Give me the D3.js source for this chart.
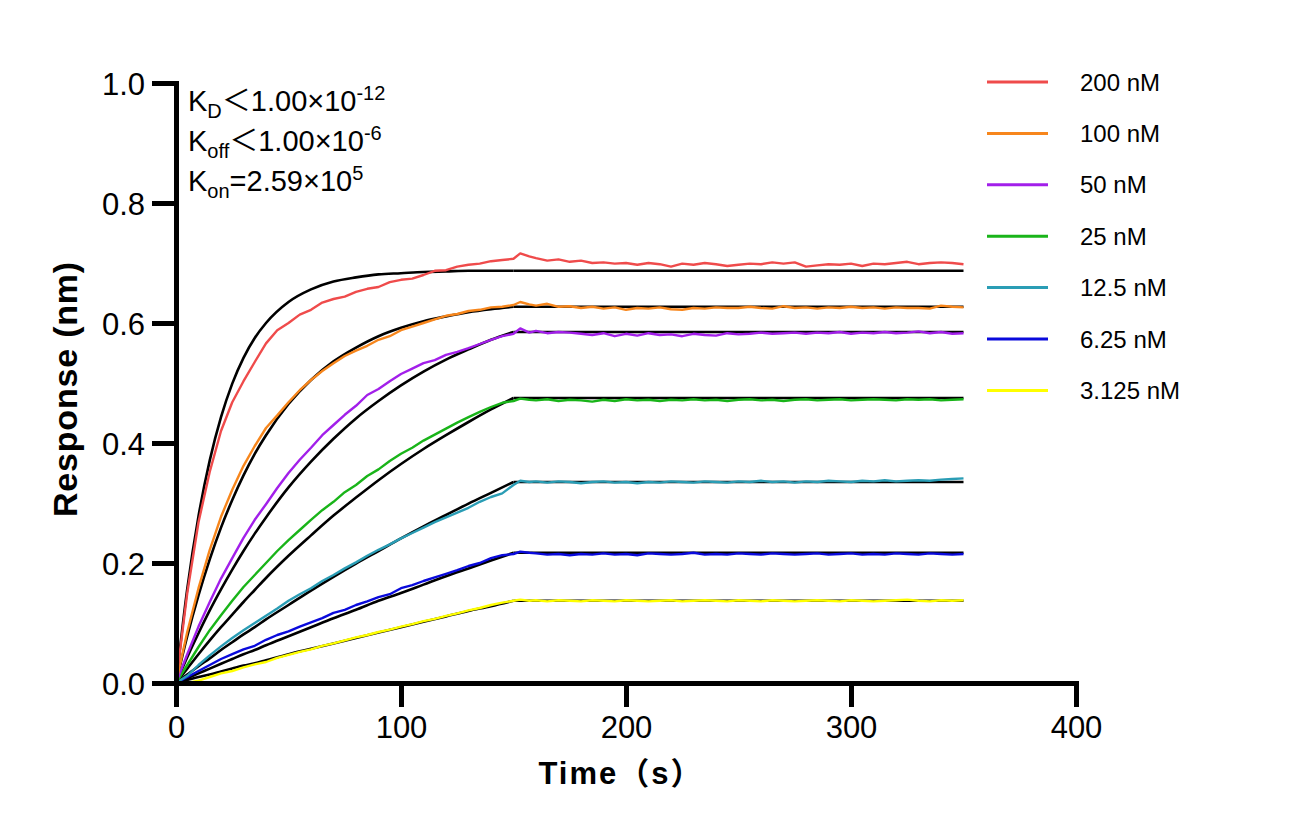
<!DOCTYPE html>
<html>
<head>
<meta charset="utf-8">
<script src="https://cdn.jsdelivr.net/npm/d3@7"></script>
<style>
  html, body { margin: 0; padding: 0; background: #fff; }
  svg { display: block; font-family: "Liberation Sans", Arial, "Noto Sans CJK SC", sans-serif; }
</style>
</head>
<body>
<svg id="chart" width="1289" height="836"></svg>
<script>
// ---------- data ----------
const seriesNames = ["200 nM", "100 nM", "50 nM", "25 nM", "12.5 nM", "6.25 nM", "3.125 nM"];
const seriesColors = ["#EF4B4B", "#F7861C", "#A21FEA", "#19B419", "#2A9DB5", "#0A0ADC", "#FFFF00"];

const xTicks = [0, 100, 200, 300, 400];
const yTicks = [0, 0.2, 0.4, 0.6, 0.8, 1.0];

// fit (association) sample times
const fitTime = [0, 5, 10, 15, 20, 25, 30, 35, 40, 50, 60, 70, 80, 90, 100, 110, 120, 130, 140, 150];
const fitEnd = 350;
const fit200  = [0, 0.157, 0.278, 0.371, 0.443, 0.499, 0.542, 0.575, 0.600, 0.635, 0.656, 0.669, 0.676, 0.681, 0.683, 0.685, 0.686, 0.687, 0.687, 0.687];
const fit100  = [0, 0.078, 0.146, 0.206, 0.259, 0.305, 0.346, 0.382, 0.413, 0.465, 0.505, 0.536, 0.559, 0.578, 0.592, 0.603, 0.611, 0.618, 0.623, 0.627];
const fit50   = [0, 0.043, 0.083, 0.121, 0.156, 0.189, 0.220, 0.249, 0.276, 0.326, 0.369, 0.407, 0.441, 0.470, 0.496, 0.519, 0.539, 0.556, 0.572, 0.585];
const fit25   = [0, 0.024, 0.048, 0.071, 0.093, 0.114, 0.135, 0.155, 0.175, 0.212, 0.246, 0.279, 0.309, 0.338, 0.365, 0.390, 0.413, 0.435, 0.456, 0.475];
const fit12_5 = [0, 0.014, 0.028, 0.041, 0.055, 0.068, 0.081, 0.093, 0.106, 0.130, 0.154, 0.177, 0.199, 0.220, 0.241, 0.261, 0.280, 0.299, 0.317, 0.335];
const fit6_25 = [0, 0.008, 0.016, 0.024, 0.032, 0.040, 0.048, 0.055, 0.063, 0.078, 0.093, 0.108, 0.122, 0.137, 0.150, 0.164, 0.178, 0.191, 0.204, 0.217];
const fit3_125= [0, 0.005, 0.010, 0.014, 0.019, 0.024, 0.029, 0.033, 0.038, 0.048, 0.057, 0.066, 0.075, 0.084, 0.093, 0.102, 0.111, 0.120, 0.128, 0.137];

// measured sample times
const dataTime = [0,5,10,15,20,25,30,35,40,45,50,55,60,65,70,75,80,85,90,95,100,105,110,115,120,125,130,135,140,145,150,153,157,
  160,165,170,175,180,185,190,195,200,205,210,215,220,225,230,235,240,245,250,255,260,265,270,275,280,285,290,295,300,305,310,315,320,325,330,335,340,345,350];

const data200 = [0,0.150,0.268,0.352,0.420,0.468,0.503,0.535,0.566,0.588,0.600,0.614,0.622,0.634,0.640,0.644,0.652,0.657,0.660,0.668,0.672,0.674,0.680,0.687,0.688,0.694,0.697,0.699,0.703,0.705,0.707,0.716,0.711,
  0.708,0.704,0.706,0.702,0.704,0.700,0.701,0.699,0.700,0.697,0.700,0.698,0.694,0.699,0.697,0.700,0.698,0.695,0.697,0.699,0.698,0.701,0.699,0.701,0.694,0.696,0.698,0.697,0.699,0.695,0.699,0.698,0.700,0.702,0.698,0.700,0.701,0.700,0.698];
const data100 = [0,0.085,0.158,0.222,0.277,0.322,0.362,0.395,0.425,0.446,0.468,0.488,0.505,0.520,0.533,0.545,0.554,0.562,0.572,0.578,0.588,0.594,0.600,0.606,0.612,0.615,0.620,0.622,0.626,0.627,0.630,0.635,0.631,
  0.629,0.632,0.627,0.628,0.625,0.627,0.624,0.626,0.622,0.625,0.624,0.626,0.623,0.622,0.625,0.624,0.626,0.625,0.625,0.627,0.625,0.624,0.628,0.625,0.626,0.624,0.626,0.625,0.627,0.625,0.626,0.624,0.626,0.625,0.625,0.624,0.629,0.627,0.626];
const data50 = [0,0.048,0.094,0.135,0.174,0.208,0.242,0.272,0.298,0.325,0.350,0.372,0.392,0.413,0.430,0.447,0.462,0.480,0.490,0.503,0.515,0.524,0.533,0.538,0.547,0.552,0.558,0.565,0.572,0.578,0.582,0.591,0.584,
  0.587,0.583,0.585,0.584,0.582,0.580,0.583,0.578,0.582,0.579,0.583,0.580,0.581,0.578,0.582,0.580,0.579,0.583,0.581,0.582,0.584,0.582,0.583,0.584,0.582,0.584,0.583,0.585,0.582,0.584,0.583,0.585,0.583,0.584,0.586,0.583,0.585,0.582,0.583];
const data25 = [0,0.030,0.060,0.088,0.113,0.137,0.160,0.180,0.200,0.220,0.238,0.255,0.272,0.288,0.302,0.318,0.330,0.345,0.356,0.370,0.382,0.392,0.404,0.414,0.424,0.434,0.443,0.452,0.460,0.467,0.470,0.474,0.472,
  0.471,0.473,0.470,0.472,0.471,0.469,0.472,0.470,0.473,0.471,0.472,0.470,0.472,0.471,0.473,0.471,0.472,0.470,0.472,0.473,0.471,0.472,0.470,0.472,0.473,0.471,0.472,0.473,0.471,0.472,0.473,0.472,0.471,0.473,0.472,0.473,0.471,0.472,0.473];
const data12_5 = [0,0.012,0.030,0.046,0.061,0.075,0.088,0.100,0.112,0.124,0.137,0.148,0.158,0.170,0.180,0.191,0.201,0.212,0.222,0.231,0.241,0.250,0.259,0.268,0.276,0.284,0.292,0.302,0.310,0.316,0.330,0.337,0.335,
  0.336,0.334,0.336,0.335,0.333,0.335,0.336,0.334,0.335,0.333,0.335,0.334,0.336,0.335,0.334,0.336,0.335,0.334,0.336,0.335,0.337,0.335,0.336,0.334,0.336,0.335,0.337,0.336,0.335,0.337,0.336,0.338,0.336,0.337,0.338,0.337,0.339,0.340,0.341];
const data6_25 = [0,0.010,0.020,0.030,0.040,0.048,0.056,0.062,0.072,0.080,0.086,0.094,0.101,0.108,0.117,0.122,0.130,0.136,0.143,0.148,0.158,0.163,0.170,0.176,0.182,0.188,0.195,0.200,0.208,0.213,0.215,0.219,0.217,
  0.216,0.214,0.215,0.213,0.215,0.214,0.216,0.214,0.215,0.213,0.216,0.215,0.214,0.215,0.217,0.214,0.215,0.214,0.216,0.215,0.214,0.216,0.215,0.214,0.215,0.216,0.214,0.215,0.216,0.214,0.215,0.214,0.216,0.215,0.214,0.216,0.215,0.214,0.215];
const data3_125 = [0,0.000,0.004,0.010,0.016,0.020,0.026,0.031,0.035,0.042,0.047,0.052,0.056,0.062,0.066,0.071,0.076,0.080,0.085,0.089,0.094,0.098,0.103,0.107,0.112,0.116,0.121,0.125,0.130,0.134,0.137,0.139,0.137,
  0.138,0.136,0.138,0.137,0.136,0.138,0.137,0.136,0.138,0.137,0.136,0.137,0.138,0.136,0.137,0.138,0.137,0.136,0.138,0.137,0.136,0.138,0.137,0.136,0.137,0.138,0.137,0.136,0.138,0.137,0.136,0.137,0.138,0.139,0.137,0.136,0.138,0.137,0.138];

const fits = [fit200, fit100, fit50, fit25, fit12_5, fit6_25, fit3_125];
const datas = [data200, data100, data50, data25, data12_5, data6_25, data3_125];

// ---------- drawing ----------
const svg = d3.select("#chart");
const x = d3.scaleLinear().domain([0, 400]).range([176, 1076]);
const y = d3.scaleLinear().domain([0, 1]).range([683, 83]);

const plot = svg.append("g");

const lineSmooth = d3.line().x(d => x(d[0])).y(d => y(d[1])).curve(d3.curveMonotoneX);
const lineStraight = d3.line().x(d => x(d[0])).y(d => y(d[1]));

// fits (under measured data)
fits.forEach(f => {
  const assoc = fitTime.map((t, i) => [t, f[i]]);
  plot.append("path").attr("d", lineSmooth(assoc))
    .attr("fill", "none").attr("stroke", "#000").attr("stroke-width", 2.6);
  const last = f[f.length - 1];
  plot.append("path").attr("d", lineStraight([[fitTime[fitTime.length - 1], last], [fitEnd, last]]))
    .attr("fill", "none").attr("stroke", "#000").attr("stroke-width", 2.6);
});

// measured data (drawn from lowest to highest so red is on top)
for (let i = datas.length - 1; i >= 0; i--) {
  const pts = dataTime.map((t, j) => [t, datas[i][j]]);
  plot.append("path").attr("d", lineStraight(pts))
    .attr("fill", "none").attr("stroke", seriesColors[i]).attr("stroke-width", 2.4)
    .attr("stroke-linejoin", "round");
}

// axes
const xAxis = d3.axisBottom(x).tickValues(xTicks).tickFormat(d3.format("d")).tickSize(24).tickSizeOuter(0).tickPadding(8);
const yAxis = d3.axisLeft(y).tickValues(yTicks).tickFormat(d3.format(".1f")).tickSize(24).tickSizeOuter(0).tickPadding(7);

const gx = svg.append("g").attr("transform", "translate(0,683)").call(xAxis);
const gy = svg.append("g").attr("transform", "translate(176,0)").call(yAxis);

[gx, gy].forEach(g => {
  g.select(".domain").attr("stroke", "#000").attr("stroke-width", 5).attr("stroke-linecap", "square");
  g.selectAll(".tick line").attr("stroke", "#000").attr("stroke-width", 5);
  g.selectAll(".tick text").attr("fill", "#000").style("font-size", "31px")
    .style("font-family", "'Liberation Sans', Arial, sans-serif");
});
gx.selectAll(".tick text").attr("dy", "0.74em");
gy.selectAll(".tick text").attr("dy", "0.36em");

// axis titles
svg.append("text")
  .attr("x", 621).attr("y", 784)
  .attr("text-anchor", "middle")
  .style("font-size", "31px").style("font-weight", "bold")
  .style("letter-spacing", "2px")
  .text("Time（s）");

svg.append("text")
  .attr("transform", "translate(77,389) rotate(-90)")
  .attr("text-anchor", "middle")
  .style("font-size", "34px").style("font-weight", "bold")
  .style("letter-spacing", "0.8px")
  .text("Response (nm)");

// kinetics annotation
const ann = [
  { base: "K", sub: "D", rel: "＜", val: "1.00×10", sup: "-12" },
  { base: "K", sub: "off", rel: "＜", val: "1.00×10", sup: "-6" },
  { base: "K", sub: "on", rel: "=", val: "2.59×10", sup: "5" }
];
ann.forEach((a, i) => {
  const t = svg.append("text").attr("x", 188).attr("y", 111 + i * 40)
    .style("font-size", "29px").attr("fill", "#000");
  t.append("tspan").text(a.base);
  t.append("tspan").attr("dy", 7).style("font-size", "20px").text(a.sub);
  t.append("tspan").attr("dy", -7).style("font-family", a.rel === "＜" ? "'Noto Sans CJK SC', sans-serif" : null).text(a.rel);
  t.append("tspan").text(a.val);
  t.append("tspan").attr("dy", -11).style("font-size", "20px").text(a.sup);
});

// legend
seriesNames.forEach((name, i) => {
  const ly = 82 + i * 51.4;
  svg.append("line").attr("x1", 987).attr("x2", 1048).attr("y1", ly).attr("y2", ly)
    .attr("stroke", seriesColors[i]).attr("stroke-width", 3);
  svg.append("text").attr("x", 1080).attr("y", ly).attr("dy", "0.36em")
    .style("font-size", "24px").attr("fill", "#000").text(name);
});
</script>
</body>
</html>
